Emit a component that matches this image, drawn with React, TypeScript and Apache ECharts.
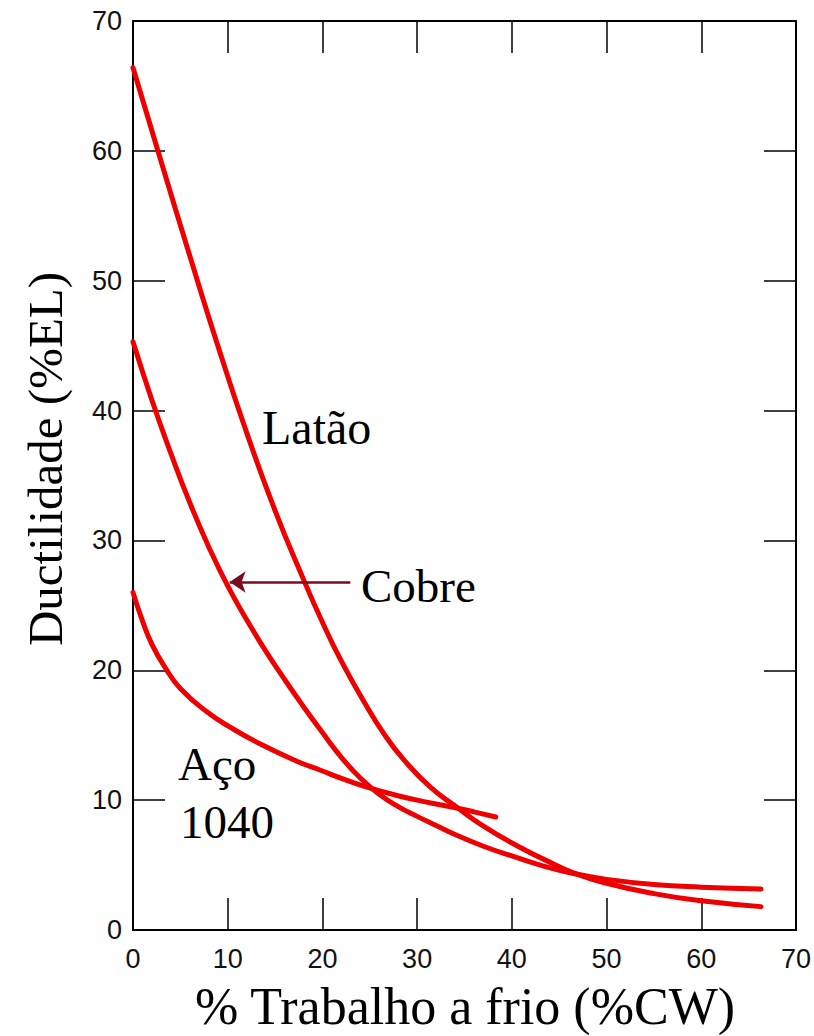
import React, { useEffect, useRef } from "react";
import * as echarts from "echarts";

const xTicks = [0, 10, 20, 30, 40, 50, 60, 70];

const latao: [number, number][] = [
  [0, 66.4], [3, 59.1], [6, 51.9], [9, 44.9], [12, 38.3], [15, 32.3], [18, 27.0],
  [20, 23.7], [22, 20.7], [24.3, 17.7], [26.5, 15.1], [28.6, 13.1], [31.4, 11.0],
  [34.2, 9.45], [37, 8.0], [40.9, 6.35], [43.5, 5.4], [46.5, 4.4], [50, 3.6],
  [55, 2.8], [60, 2.25], [66.3, 1.8],
];

const cobre: [number, number][] = [
  [0, 45.3], [2, 40.8], [4, 36.7], [6, 32.9], [8, 29.5], [10, 26.5], [12, 23.9],
  [14, 21.5], [16, 19.3], [18, 17.2], [20, 15.2], [22, 13.3], [24, 11.7],
  [26, 10.45], [28, 9.5], [30, 8.75], [32, 8.05], [34, 7.35], [37, 6.45], [40, 5.7],
  [43, 5.0], [46.5, 4.35], [50, 3.9], [55, 3.5], [60, 3.3], [66.3, 3.15],
];

const aco1040: [number, number][] = [
  [0, 26], [1, 23.8], [2, 22.0], [3.4, 20.2], [5, 18.6], [7.8, 16.8], [10.3, 15.6],
  [13.5, 14.3], [17.3, 13.0], [19.8, 12.3], [22.3, 11.6], [24.7, 11.0], [28.2, 10.3],
  [31, 9.85], [33.8, 9.45], [36, 9.1], [38.3, 8.7],
];

const cobreArrow: [number, number][] = [[22.95, 26.8], [10.2, 26.8]];

const RED = "#ee0000";
const TICK_FONT = "'Liberation Sans', Arial, sans-serif";
const SERIF = "'Liberation Serif', 'Times New Roman', serif";

export default function App() {
  const ref = useRef<HTMLDivElement>(null);
  useEffect(() => {
    if (!ref.current) return;
    const chart = echarts.init(ref.current, undefined, { renderer: "svg" });
    const axisLine = { show: true, onZero: false, lineStyle: { color: "#000", width: 2 } };
    const axisTick = { show: true, inside: true, length: 32, lineStyle: { color: "#000", width: 1.5 } };
    const label = { fontFamily: TICK_FONT, fontSize: 27, color: "#111" };
    const lineSeries = (name: string, data: [number, number][], extra: any = {}) => ({
      name,
      type: "line",
      data,
      smooth: 0.5,
      showSymbol: false,
      symbol: "none",
      lineStyle: { color: RED, width: 5, cap: "round" },
      z: 3,
      ...extra,
    });
    chart.setOption({
      animation: false,
      backgroundColor: "#fff",
      grid: { left: 133, top: 21, right: 18, bottom: 106, containLabel: false },
      xAxis: [
        {
          type: "value", min: 0, max: 70, interval: 10, position: "bottom",
          axisLine, axisTick,
          axisLabel: { ...label, margin: 15, formatter: (v: number) => (xTicks.includes(v) ? String(v) : "") },
          splitLine: { show: false },
        },
        {
          type: "value", min: 0, max: 70, interval: 10, position: "top",
          axisLine, axisTick, axisLabel: { show: false }, splitLine: { show: false },
        },
      ],
      yAxis: [
        {
          type: "value", min: 0, max: 70, interval: 10, position: "left",
          axisLine, axisTick, axisLabel: { ...label, margin: 11 }, splitLine: { show: false },
        },
        {
          type: "value", min: 0, max: 70, interval: 10, position: "right",
          axisLine, axisTick, axisLabel: { show: false }, splitLine: { show: false },
        },
      ],
      series: [
        lineSeries("Latão", latao),
        lineSeries("Cobre", cobre, {
          markLine: {
            silent: true,
            symbol: ["none", "arrow"],
            symbolSize: 16,
            label: { show: false },
            lineStyle: { color: "#7b0b1f", width: 2.5, type: "solid" },
            data: [[{ coord: cobreArrow[0] }, { coord: cobreArrow[1] }]],
          },
        }),
        lineSeries("Aço 1040", aco1040),
      ],
      graphic: [
        {
          type: "text", x: 45, y: 459, rotation: Math.PI / 2,
          style: { text: "Ductilidade (%EL)", font: `49px ${SERIF}`, fill: "#000", align: "center", verticalAlign: "middle" },
        },
        {
          type: "text", x: 465, y: 1006,
          style: { text: "% Trabalho a frio (%CW)", font: `52px ${SERIF}`, fill: "#000", align: "center", verticalAlign: "middle" },
        },
        {
          type: "text", x: 262, y: 427,
          style: { text: "Latão", font: `48px ${SERIF}`, fill: "#000", align: "left", verticalAlign: "middle" },
        },
        {
          type: "text", x: 361, y: 586,
          style: { text: "Cobre", font: `47px ${SERIF}`, fill: "#000", align: "left", verticalAlign: "middle" },
        },
        {
          type: "text", x: 178, y: 764,
          style: { text: "Aço", font: `47px ${SERIF}`, fill: "#000", align: "left", verticalAlign: "middle" },
        },
        {
          type: "text", x: 180, y: 822,
          style: { text: "1040", font: `47px ${SERIF}`, fill: "#000", align: "left", verticalAlign: "middle" },
        },
      ],
    });
    return () => chart.dispose();
  }, []);
  return (
    <div
      ref={ref}
      style={{ position: "fixed", left: 0, top: 0, width: 814, height: 1036, background: "#fff" }}
    />
  );
}
